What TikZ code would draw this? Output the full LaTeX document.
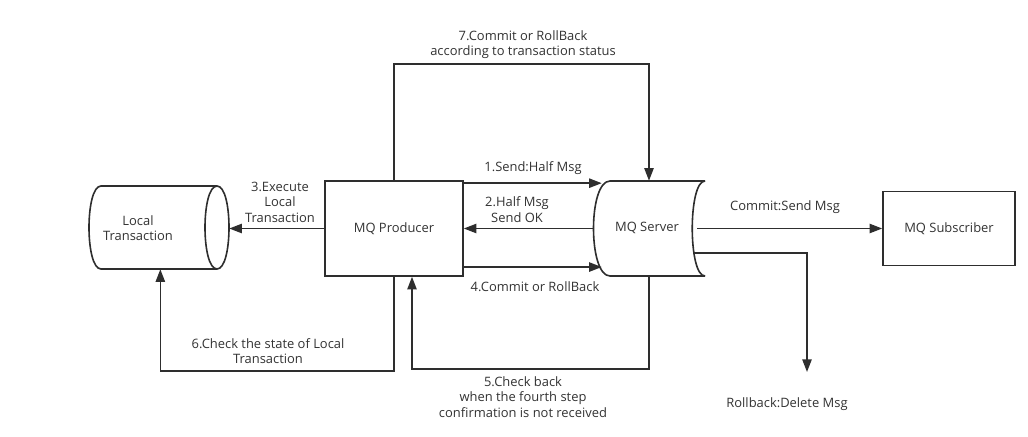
\documentclass[tikz,border=0pt]{standalone}
\usepackage{fontspec}
\setmainfont{Open Sans}
\usetikzlibrary{arrows.meta}
\begin{document}
\begin{tikzpicture}[x=0.75pt,y=-0.75pt,
  line/.style={draw=black!82,line width=1.2pt},
  arr/.style={line,-{Triangle[length=9.5pt,width=7pt]}},
  lbl/.style={font=\fontsize{9.7}{11.7}\selectfont,text=black!80,align=center,inner sep=0pt},
  boxn/.style={line,rectangle,inner sep=0pt,font=\fontsize{9.7}{11.7}\selectfont,text=black!80},
  ghost/.style={rectangle,inner sep=0pt,draw=none}]
\fill[white] (0,0) rectangle (1028,436);
\useasboundingbox (0,0) rectangle (1028,436);

% Local Transaction cylinder
\draw[line] (101,186) -- (217,186)
  (101,269) -- (217,269)
  (101,186) .. controls (85,186) and (85,269) .. (101,269)
  (217,186) .. controls (233,186) and (233,269) .. (217,269)
  .. controls (201,269) and (201,186) .. (217,186);
\node[ghost,minimum width=105pt,minimum height=62.25pt] (lt) at (159,227.5) {};
\node[lbl] (ltt) at (138,228) {Local\\Transaction};

% MQ Producer
\node[boxn,minimum width=103.5pt,minimum height=71.25pt] (prod) at (394,228.5) {MQ Producer};

% MQ Server (stored data shape)
\draw[line] (610,181) -- (705,181)
  (610,276) -- (705,276)
  (610,181) .. controls (588,181) and (588,276) .. (610,276)
  (705,181) .. controls (688,181) and (688,276) .. (705,276);
\node[ghost,minimum width=84pt,minimum height=71.25pt] (srv) at (649,228.5) {};
\node[lbl] (srvt) at (647,228) {MQ Server};

% MQ Subscriber
\node[boxn,minimum width=99pt,minimum height=55.5pt] (sub) at (949,228.5) {MQ Subscriber};

\coordinate (rb) at (807,372);

% connectors
\draw[arr] ([yshift=34pt]prod.east) -- ([xshift=6.75pt,yshift=34pt]srv.west);
\draw[arr] (srv.west) -- (prod.east);
\draw[arr] ([yshift=-28.9pt]prod.east) -- ([xshift=6.75pt,yshift=-28.9pt]srv.west);
\draw[arr] (prod.west) -- (prod.west -| lt.east);
\draw[arr] (prod.north) -- ++(0,-116) -| (srv.north);
\draw[arr] ([xshift=-6pt]srv.east) -- (sub.west);
\draw[arr] ([xshift=-8.25pt,yshift=-18.4pt]srv.east) -| (rb);
\draw[arr] (srv.south) -- ++(0,93) -| ([xshift=13.5pt]prod.south);
\draw[arr] (prod.south) -- ++(0,94) -| ([xshift=1pt]lt.south);

% labels
\node[lbl] at (533,168) {1.Send:Half Msg};
\node[lbl] at (517,209.5) {2.Half Msg\\Send OK};
\node[lbl] at (280,202) {3.Execute\\Local\\Transaction};
\node[lbl] at (535,287) {4.Commit or RollBack};
\node[lbl] at (523,397) {5.Check back\\when the fourth step\\confirmation is not received};
\node[lbl] at (268,351) {6.Check the state of Local\\Transaction};
\node[lbl] at (523,44.5) {7.Commit or RollBack\\according to transaction status};
\node[lbl] at (785,207) {Commit:Send Msg};
\node[lbl] at (787,404) {Rollback:Delete Msg};
\end{tikzpicture}
\end{document}
